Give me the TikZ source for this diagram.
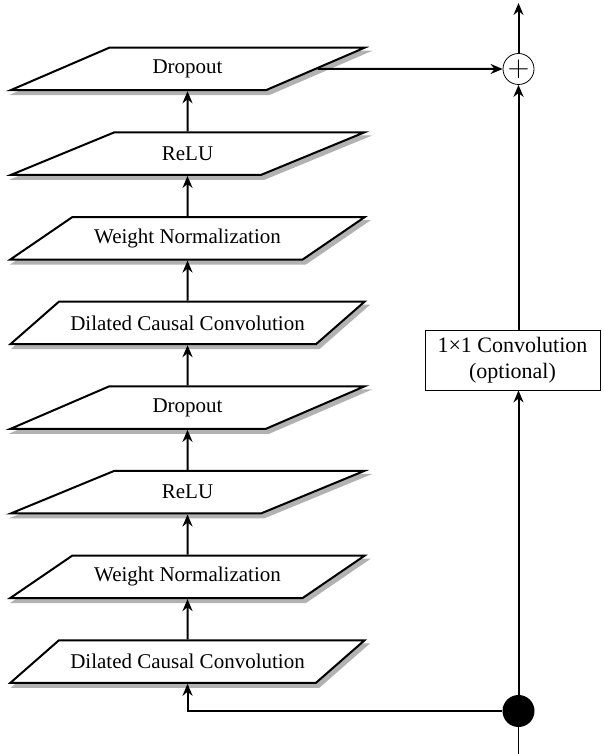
\documentclass[tikz,border=0pt]{standalone}
\usepackage{fontspec}
\setmainfont{Liberation Serif}
\usetikzlibrary{arrows.meta, shapes.geometric, backgrounds}

\begin{document}
\begin{tikzpicture}[
        x=0.5pt, y=-0.5pt,
        line width=1pt,
        every node/.style={font=\fontsize{10.5}{12}\selectfont},
        layer/.style={trapezium, trapezium left angle=31, trapezium right angle=149,
            trapezium stretches=true, draw, fill=white, line width=1pt,
            minimum width=177.5pt, minimum height=21.25pt},
        link/.style={-{Stealth[length=6pt, width=5pt]}, line width=1pt}
    ]
    \useasboundingbox (0,0) rectangle (604,754);

    % Layers of the residual block (bottom to top)
    \node[layer] (dcc1) at (187.5, 661.5) {Dilated Causal Convolution};
    \node[layer] (wn1) at (187.5, 576.8) {Weight Normalization};
    \node[layer] (relu1) at (187.5, 492.2) {ReLU};
    \node[layer] (drop1) at (187.5, 407.6) {Dropout};
    \node[layer] (dcc2) at (187.5, 322.9) {Dilated Causal Convolution};
    \node[layer] (wn2) at (187.5, 238.3) {Weight Normalization};
    \node[layer] (relu2) at (187.5, 153.7) {ReLU};
    \node[layer] (drop2) at (187.5, 69) {Dropout};

    % Grey shadows under the layers
    \begin{pgfonlayer}{background}
        \foreach \n in {dcc1, wn1, relu1, drop1, dcc2, wn2, relu2, drop2}
            \fill[black!30] ([shift={(3,4)}]\n.bottom left corner)
                -- ([shift={(3,4)}]\n.bottom right corner)
                -- ([shift={(3,4)}]\n.top right corner)
                -- ([shift={(3,4)}]\n.top left corner) -- cycle;
    \end{pgfonlayer}

    % Shortcut branch
    \node[draw, fill=white, minimum width=87.5pt, minimum height=30pt, inner sep=1pt,
        align=center, font=\fontsize{11}{13}\selectfont] (conv) at (512.5, 360)
        {1×1 Convolution\\(optional)};
    \node[circle, draw, fill=white, minimum size=15.5pt, inner sep=0pt,
        font=\fontsize{15}{15}\selectfont] (plus) at (518.5, 69) {$+$};
    \node[circle, fill=black, minimum size=16pt, inner sep=0pt] (split) at (518.5, 711) {};
    \coordinate (input) at (518.5, 754);
    \coordinate (output) at (518.5, 3);

    % Edges of the main branch
    \draw[link] (dcc1.north) -- (wn1.south);
    \draw[link] (wn1.north) -- (relu1.south);
    \draw[link] (relu1.north) -- (drop1.south);
    \draw[link] (drop1.north) -- (dcc2.south);
    \draw[link] (dcc2.north) -- (wn2.south);
    \draw[link] (wn2.north) -- (relu2.south);
    \draw[link] (relu2.north) -- (drop2.south);
    \draw[link] (drop2.east) -- (plus.west);

    % Edges of the shortcut
    \draw (input) -- (split);
    \draw[link] (split.west) -| (dcc1.south);
    \draw[link] (split) -- (conv.south -| split);
    \draw[link] (conv.north -| plus) -- (plus.south);
    \draw[link] (plus.north) -- (output);

\end{tikzpicture}
\end{document}
